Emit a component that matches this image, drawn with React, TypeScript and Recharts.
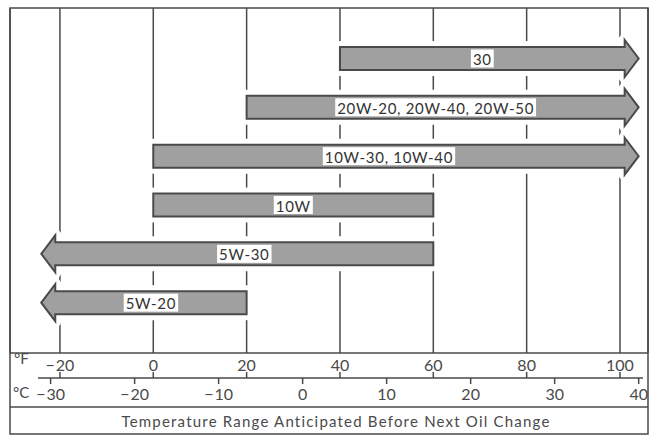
import { useLayoutEffect, useRef, useState } from "react";
import { BarChart, Bar, XAxis, YAxis, CartesianGrid } from "recharts";

// oil grades, top row first
const grades = ["30", "20W-20, 20W-40, 20W-50", "10W-30, 10W-40", "10W", "5W-30", "5W-20"];
// temperature span in °F (arrow tips for open-ended grades)
const lowF = [40, 20, 0, 0, -24, -24];
const highF = [104, 104, 104, 60, 60, 20];
const openEnds = ["right", "right", "right", "none", "left", "left"];

const fahrenheitTicks = [-20, 0, 20, 40, 60, 80, 100];
const celsiusTicks = [-30, -20, -10, 0, 10, 20, 30, 40];

const domainF: [number, number] = [-30.7, 106];
const toC = (f: number) => ((f - 32) * 5) / 9;
const domainC: [number, number] = [toC(domainF[0]), toC(domainF[1])];

const rows = grades.map((grade, i) => ({
  grade,
  range: [lowF[i], highF[i]],
  open: openEnds[i],
}));

const INK = "#4a4a4a";
const FONT = "Lato, 'DejaVu Sans', sans-serif";

const fmt = (v: number) => (v < 0 ? `\u2212\u200A${Math.abs(v)}` : `${v}`);

function GradeTag({ cx, cy, text }: { cx: number; cy: number; text: string }) {
  const ref = useRef<SVGTextElement>(null);
  const [w, setW] = useState(text.length * 8);
  useLayoutEffect(() => {
    if (ref.current) setW(ref.current.getBBox().width);
  }, [text]);
  return (
    <g>
      <rect x={cx - w / 2 - 2} y={cy - 9} width={w + 4} height={18} fill="#fff" />
      <text ref={ref} x={cx} y={cy + 0.5} textAnchor="middle" dominantBaseline="central"
        fontFamily={FONT} fontSize={15} letterSpacing={0.7} fill="#333">
        {text}
      </text>
    </g>
  );
}

function ArrowBar(props: any) {
  const { x, y, width, height, payload } = props;
  const head = 14;
  const flare = 7;
  const x0 = x, x1 = x + width, y0 = y, y1 = y + height, ym = y + height / 2;
  let pts: number[][];
  let bodyL = x0, bodyR = x1;
  if (payload.open === "right") {
    bodyR = x1 - head;
    pts = [[x0, y0], [bodyR, y0], [bodyR, y0 - flare], [x1, ym], [bodyR, y1 + flare], [bodyR, y1], [x0, y1]];
  } else if (payload.open === "left") {
    bodyL = x0 + head;
    pts = [[x0, ym], [bodyL, y0 - flare], [bodyL, y0], [x1, y0], [x1, y1], [bodyL, y1], [bodyL, y1 + flare]];
  } else {
    pts = [[x0, y0], [x1, y0], [x1, y1], [x0, y1]];
  }
  const d = pts.map((p) => p.join(",")).join(" ");
  return (
    <g>
      <polygon points={d} fill="#fff" stroke="#fff" strokeWidth={12} strokeLinejoin="round" />
      <polygon points={d} fill="#a0a0a0" stroke={INK} strokeWidth={2} />
      <GradeTag cx={(bodyL + bodyR) / 2} cy={ym} text={payload.grade} />
    </g>
  );
}

function FTick({ x, y, payload }: any) {
  return (
    <g>
      <text x={x} y={y + 11} textAnchor="middle" dominantBaseline="central"
        fontFamily={FONT} fontSize={16} fill={INK}>
        {fmt(payload.value)}
      </text>
      <line x1={x} x2={x} y1={y + 19} y2={y + 25} stroke={INK} strokeWidth={1.5} />
    </g>
  );
}

function CTick({ x, y, payload }: any) {
  return (
    <g>
      <line x1={x} x2={x} y1={y} y2={y + 6} stroke={INK} strokeWidth={1.5} />
      <text x={x} y={y + 15} textAnchor="middle" dominantBaseline="central"
        fontFamily={FONT} fontSize={16} fill={INK}>
        {fmt(payload.value)}
      </text>
    </g>
  );
}

export default function App() {
  return (
    <div style={{ position: "relative", width: 652, height: 436, background: "#fff" }}>
      <style>{"body{margin:0}"}</style>
      <BarChart width={652} height={436} data={rows} layout="vertical"
        margin={{ top: 8, right: 4, left: 10, bottom: 29 }}>
        <CartesianGrid horizontal={false} stroke={INK} strokeWidth={1.5} />
        {/* °F scale, id 0, sits right under the plot */}
        <XAxis xAxisId={0} type="number" domain={domainF} ticks={fahrenheitTicks} allowDataOverflow
          height={25} axisLine={false} tickLine={false} tickSize={0} tickMargin={0} tick={<FTick />} />
        <XAxis xAxisId={1} type="number" domain={domainC} ticks={celsiusTicks} allowDataOverflow
          height={29} axisLine={false} tickLine={false} tickSize={0} tickMargin={0} tick={<CTick />} />
        <YAxis type="category" dataKey="grade" hide padding={{ top: 26, bottom: 26 }} />
        <Bar dataKey="range" barSize={23} shape={<ArrowBar />} isAnimationActive={false} />
      </BarChart>
      <svg width={652} height={436} style={{ position: "absolute", left: 0, top: 0, pointerEvents: "none" }}>
        <rect x={10} y={8} width={638} height={426} fill="none" stroke={INK} strokeWidth={1.5} />
        <line x1={10} x2={648} y1={353} y2={353} stroke={INK} strokeWidth={1.5} />
        <line x1={38} x2={643} y1={378} y2={378} stroke={INK} strokeWidth={1.5} />
        <line x1={10} x2={648} y1={407} y2={407} stroke={INK} strokeWidth={1.5} />
        <text x={14} y={364} fontFamily={FONT} fontSize={15} fill={INK}>°F</text>
        <text x={13} y={398} fontFamily={FONT} fontSize={15} fill={INK}>°C</text>
        <text x={336} y={421} textAnchor="middle" dominantBaseline="central"
          fontFamily={FONT} fontSize={15} letterSpacing={1.2} fill={INK}>
          Temperature Range Anticipated Before Next Oil Change
        </text>
      </svg>
    </div>
  );
}
